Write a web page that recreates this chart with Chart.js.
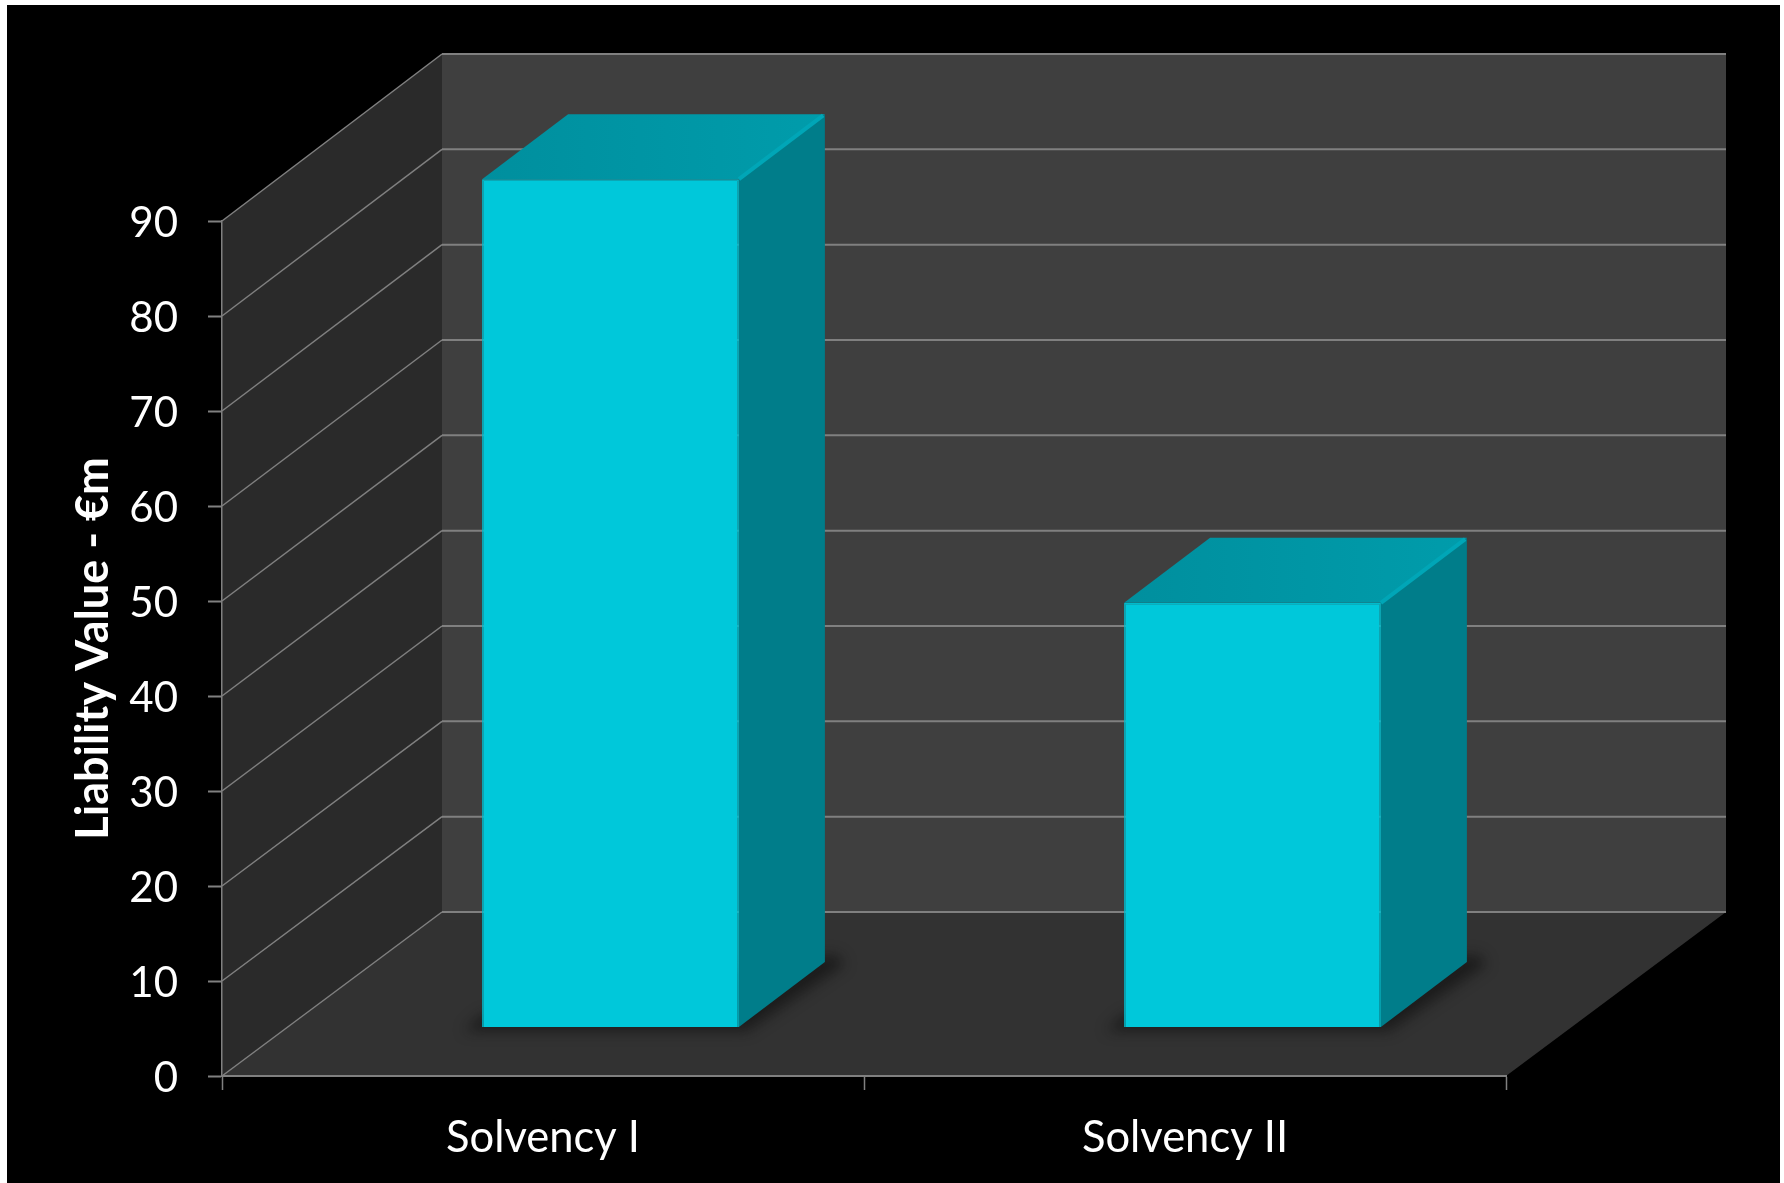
<!DOCTYPE html>
<html>
<head>
<meta charset="utf-8">
<title>Liability Value</title>
<script src="https://cdn.jsdelivr.net/npm/chart.js@4"></script>
<style>
    html, body { margin: 0; background: #fff; }
    canvas { display: block; }
</style>
</head>
<body>
<canvas id="liabilityChart" width="1784" height="1183"></canvas>
<script>
// Liability value by regime
const categories = ['Solvency I', 'Solvency II'];
const liabilityValues = [89.3, 44.7];
const yTicks = [0, 10, 20, 30, 40, 50, 60, 70, 80, 90];

// Box depth of the plot: how far the back wall sits from the front plane
const WALL_DX = 220;
const WALL_DY = 164;
const WALL_STRETCH = 1.0035;
// Bars stand a little way back on the floor and have their own depth
const BAR_SHIFT_X = 67.5;
const BAR_SHIFT_Y = 48.5;
const BAR_DX = 86;
const BAR_DY = 65;

const GRID = '#808080';

function poly(ctx, pts, fill) {
    ctx.beginPath();
    pts.forEach((p, i) => i ? ctx.lineTo(p[0], p[1]) : ctx.moveTo(p[0], p[1]));
    ctx.closePath();
    if (fill) {
        ctx.fillStyle = fill;
        ctx.fill();
    }
}

function line(ctx, x1, y1, x2, y2, width) {
    ctx.beginPath();
    ctx.moveTo(x1, y1);
    ctx.lineTo(x2, y2);
    ctx.lineWidth = width;
    ctx.strokeStyle = GRID;
    ctx.stroke();
}

// Walls, floor and their gridlines
const boxPlugin = {
    id: 'box3d',
    beforeDraw(chart) {
        const { ctx, chartArea: a, scales } = chart;
        const y = scales.y;
        const zero = y.getPixelForValue(0);
        const backBottom = zero - WALL_DY;
        const backY = v => backBottom - (zero - y.getPixelForValue(v)) * WALL_STRETCH;
        const top = yTicks[yTicks.length - 1];

        ctx.save();
        ctx.fillStyle = '#fff';
        ctx.fillRect(0, 0, chart.width, chart.height);
        ctx.fillStyle = '#000';
        ctx.fillRect(7, 5, chart.width - 11, chart.height - 5);

        // back wall
        poly(ctx, [
            [a.left + WALL_DX, backY(top)], [a.right + WALL_DX, backY(top)],
            [a.right + WALL_DX, backBottom], [a.left + WALL_DX, backBottom]
        ], '#3f3f3f');
        // side wall
        poly(ctx, [
            [a.left, y.getPixelForValue(top)], [a.left + WALL_DX, backY(top)],
            [a.left + WALL_DX, backBottom], [a.left, zero]
        ], '#2a2a2a');
        // floor
        poly(ctx, [
            [a.left, zero], [a.right, zero],
            [a.right + WALL_DX, backBottom], [a.left + WALL_DX, backBottom]
        ], '#323232');

        yTicks.forEach(v => {
            const fy = y.getPixelForValue(v);
            const by = backY(v);
            line(ctx, a.left, fy, a.left + WALL_DX, by, 1.5);
            line(ctx, a.left + WALL_DX, by, a.right + WALL_DX, by, 2);
        });
        ctx.restore();
    },
    // Bars are pushed back along the floor, then get their side and top faces
    beforeDatasetDraw(chart, args) {
        const { ctx } = chart;
        ctx.save();
        ctx.translate(BAR_SHIFT_X, -BAR_SHIFT_Y);

        args.meta.data.forEach(bar => {
            const { x, y, base, width } = bar.getProps(['x', 'y', 'base', 'width'], true);
            const l = x - width / 2;
            const r = x + width / 2;

            // soft shadow round the foot of the bar
            ctx.save();
            ctx.filter = 'blur(7px)';
            poly(ctx, [
                [l - 18, base + 4], [r + 8, base + 4],
                [r + BAR_DX + 20, base - BAR_DY + 2], [r + BAR_DX + 10, base - BAR_DY - 8], [l, base - 12]
            ], 'rgba(10,10,10,0.55)');
            ctx.restore();

            // side face
            poly(ctx, [
                [r, y], [r + BAR_DX, y - BAR_DY],
                [r + BAR_DX, base - BAR_DY], [r, base]
            ], '#007d8a');

            // top face
            const topFill = ctx.createLinearGradient(l, 0, r + BAR_DX, 0);
            topFill.addColorStop(0, '#008f9e');
            topFill.addColorStop(1, '#009cab');
            poly(ctx, [
                [l, y], [r, y],
                [r + BAR_DX, y - BAR_DY], [l + BAR_DX, y - BAR_DY]
            ], topFill);

            // lighter bevel along the right edge of the top face
            ctx.beginPath();
            ctx.moveTo(r, y);
            ctx.lineTo(r + BAR_DX * 0.98, y - BAR_DY * 0.98);
            ctx.lineWidth = 4;
            ctx.strokeStyle = '#00a6b7';
            ctx.stroke();
        });
    },
    afterDatasetDraw(chart) {
        chart.ctx.restore();
    }
};

new Chart(document.getElementById('liabilityChart'), {
    type: 'bar',
    data: {
        labels: categories,
        datasets: [{
            data: liabilityValues,
            backgroundColor: '#00c8da',
            borderColor: '#00bccd',
            borderWidth: 1.5,
            categoryPercentage: 1,
            barPercentage: 0.4,
            clip: false
        }]
    },
    options: {
        responsive: false,
        animation: false,
        layout: { padding: { left: 0, top: 221, right: 278, bottom: 0 } },
        plugins: {
            legend: { display: false },
            title: { display: false },
            tooltip: { enabled: false }
        },
        scales: {
            x: {
                afterFit(scale) { scale.height = 107; },
                grid: {
                    drawOnChartArea: false,
                    tickLength: 14,
                    tickColor: GRID,
                    tickWidth: 1.5
                },
                border: { color: GRID, width: 2 },
                ticks: {
                    color: '#fff',
                    padding: 22,
                    maxRotation: 0,
                    font: { family: 'Lato', size: 43.5 }
                }
            },
            y: {
                min: 0,
                max: 90,
                afterFit(scale) { scale.width = 222; },
                afterBuildTicks(scale) { scale.ticks = yTicks.map(v => ({ value: v })); },
                grid: {
                    drawOnChartArea: false,
                    tickLength: 14,
                    tickColor: GRID,
                    tickWidth: 2
                },
                border: { color: GRID, width: 1.5 },
                ticks: {
                    color: '#fff',
                    padding: 30,
                    labelOffset: 2,
                    font: { family: 'Lato', size: 42 }
                },
                title: {
                    display: true,
                    text: 'Liability Value - €m',
                    color: '#fff',
                    padding: { top: 66, bottom: 0 },
                    font: { family: 'Lato', size: 45, weight: 'bold' }
                }
            }
        }
    },
    plugins: [boxPlugin]
});
</script>
</body>
</html>
